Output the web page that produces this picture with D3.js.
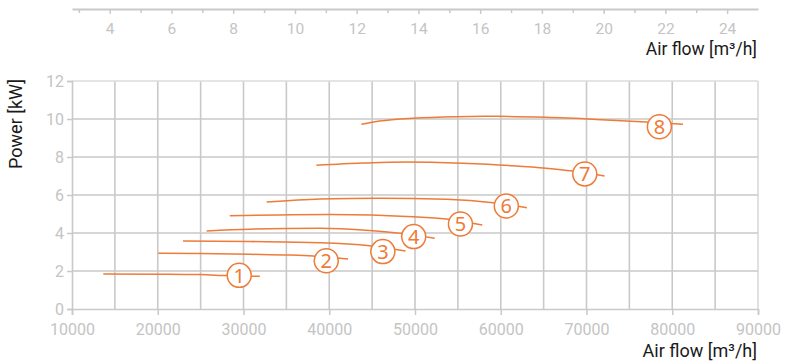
<!DOCTYPE html>
<html><head><meta charset="utf-8">
<script src="https://cdn.jsdelivr.net/npm/d3@7"></script>
<style>
html,body{margin:0;padding:0;background:#fff;}
svg{display:block;font-family:Roboto,"Noto Sans",sans-serif;}
</style></head>
<body>
<svg id="chart" width="787" height="363"></svg>
<script>
// ---- data ----
const xTicksBottom = [10000,20000,30000,40000,50000,60000,70000,80000,90000];
const xGridBottom = [15000,20000,25000,30000,35000,40000,45000,50000,55000,60000,65000,70000,75000,80000,85000,90000];
const yTicks = [0,2,4,6,8,10,12];
const xTicksTop = [4,6,8,10,12,14,16,18,20,22,24];
const xMinorTop = [3,5,7,9,11,13,15,17,19,21,23];
const curveIds = ["1","2","3","4","5","6","7","8"];
const curve1 = [[13650,1.84],[20250,1.83],[24900,1.81],[28000,1.76],[31900,1.72]];
const curve2 = [[20050,2.93],[24900,2.92],[30700,2.88],[35400,2.84],[38100,2.79],[42200,2.63]];
const curve3 = [[22950,3.58],[30700,3.55],[38900,3.49],[44700,3.33],[48900,3.05]];
const curve4 = [[25700,4.11],[30700,4.20],[38900,4.25],[44700,4.13],[48400,3.98],[52300,3.72]];
const curve5 = [[28400,4.91],[34200,4.95],[40050,4.97],[49750,4.86],[53650,4.74],[57850,4.42]];
const curve6 = [[32700,5.63],[38900,5.79],[45900,5.83],[53650,5.77],[59100,5.59],[63050,5.33]];
const curve7 = [[38500,7.56],[43950,7.68],[49000,7.74],[55600,7.67],[61400,7.54],[65300,7.41],[68400,7.26],[72100,7.00]];
const curve8 = [[43750,9.72],[45900,9.89],[49750,10.04],[54800,10.12],[59500,10.14],[65300,10.09],[71150,9.98],[76950,9.84],[81250,9.72]];
const labelX = [29500,39650,46250,49850,55300,60650,69800,78500];
const labelY = [1.77,2.54,3.02,3.81,4.47,5.42,7.11,9.59];

const curves = [curve1,curve2,curve3,curve4,curve5,curve6,curve7,curve8];

// ---- layout ----
const svg = d3.select("#chart");
const mLeft = 72, mRight = 758, mTop = 81, mBottom = 309;
const x = d3.scaleLinear().domain([10000,90000]).range([mLeft,mRight]);
const xTop = d3.scaleLinear().domain([10000/3600,90000/3600]).range([mLeft,mRight]);
const y = d3.scaleLinear().domain([0,12]).range([mBottom,mTop]);

const gridCol = "#c9c9c9", labelCol = "#c4c4c4", orange = "#ee7b38";
const axisFont = "Roboto, sans-serif";

// grid vertical
svg.append("g").selectAll("line").data(xGridBottom).join("line")
  .attr("x1", d=>x(d)).attr("x2", d=>x(d)).attr("y1", y(12)).attr("y2", y(0))
  .attr("stroke", d=> d===90000 ? "#dadada" : gridCol).attr("stroke-width", 1.6);
// grid horizontal
svg.append("g").selectAll("line").data(yTicks.filter(d=>d>0)).join("line")
  .attr("x1", x(10000)).attr("x2", x(90000)).attr("y1", d=>y(d)).attr("y2", d=>y(d))
  .attr("stroke", d=> d===12 ? "#dcdcdc" : gridCol).attr("stroke-width", 1.6);

// left axis
const yAxis = d3.axisLeft(y).tickValues(yTicks).tickSize(5).tickPadding(3);
const gy = svg.append("g").attr("transform", `translate(${mLeft},0)`).call(yAxis);
gy.select(".domain").attr("stroke", gridCol).attr("stroke-width", 1.6);
gy.selectAll(".tick line").attr("stroke", gridCol).attr("stroke-width", 1.5);
gy.selectAll(".tick text").attr("fill", labelCol).attr("font-size", 16)
  .attr("font-family", axisFont);

// bottom axis
const xAxis = d3.axisBottom(x).tickValues(xTicksBottom).tickSize(6).tickPadding(9).tickFormat(d3.format("d"));
const gx = svg.append("g").attr("transform", `translate(0,${mBottom})`).call(xAxis);
gx.select(".domain").attr("stroke", gridCol).attr("stroke-width", 1.6);
gx.selectAll(".tick line").attr("stroke", gridCol).attr("stroke-width", 1.5);
gx.selectAll(".tick text").attr("fill", labelCol).attr("font-size", 16)
  .attr("font-family", axisFont);

// top axis
const topY = 9;
const gtMinor = svg.append("g").attr("transform", `translate(0,${topY})`)
  .call(d3.axisBottom(xTop).tickValues(xMinorTop).tickSize(4).tickFormat(""));
gtMinor.select(".domain").remove();
gtMinor.selectAll(".tick line").attr("stroke", gridCol).attr("stroke-width", 1.5);
const gt = svg.append("g").attr("transform", `translate(0,${topY})`)
  .call(d3.axisBottom(xTop).tickValues(xTicksTop).tickSize(5).tickPadding(9).tickSizeOuter(0));
gt.select(".domain").attr("stroke", gridCol).attr("stroke-width", 1.8);
gt.selectAll(".tick line").attr("stroke", gridCol).attr("stroke-width", 1.5);
gt.selectAll(".tick text").attr("fill", labelCol).attr("font-size", 15.5)
  .attr("font-family", axisFont);

// axis titles
svg.append("text").attr("x", 757).attr("y", 54.5).attr("text-anchor","end")
  .attr("font-family", axisFont).attr("font-size", 17.5).attr("fill", "#1a1a1a").text("Air flow [m³/h]");
svg.append("text").attr("x", 757).attr("y", 357).attr("text-anchor","end")
  .attr("font-family", axisFont).attr("font-size", 18).attr("fill", "#1a1a1a").text("Air flow [m³/h]");
svg.append("text").attr("transform", "translate(22,124) rotate(-90)").attr("text-anchor","middle")
  .attr("font-family", axisFont).attr("font-size", 18).attr("fill", "#1a1a1a").text("Power [kW]");

// curves
const line = d3.line().x(d=>x(d[0])).y(d=>y(d[1])).curve(d3.curveMonotoneX);
svg.append("g").selectAll("path").data(curves).join("path")
  .attr("d", line).attr("fill","none").attr("stroke", orange).attr("stroke-width", 1.5);

// labels
const lg = svg.append("g").selectAll("g").data(curveIds).join("g")
  .attr("transform", (d,i)=>`translate(${x(labelX[i])},${y(labelY[i])})`);
lg.append("circle").attr("r", 12).attr("fill","#fff").attr("stroke", orange).attr("stroke-width", 1.5);
lg.append("text").attr("text-anchor","middle").attr("dy","0.36em").attr("font-size", 20)
  .attr("font-family", "Noto Sans, sans-serif").attr("fill", orange).text(d=>d);
</script>
</body></html>
